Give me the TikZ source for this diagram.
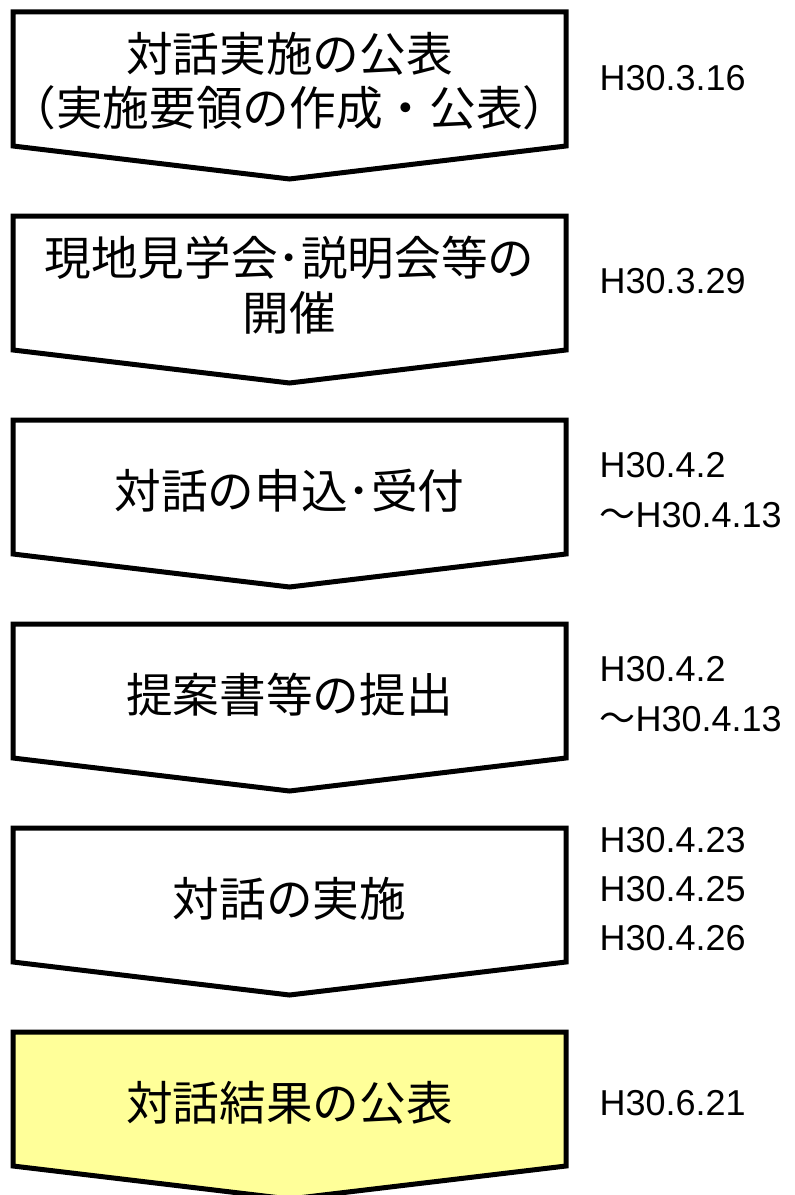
\documentclass[tikz,border=0pt]{standalone}
\usepackage{fontspec}
\newfontfamily\jpfont{Noto Sans CJK JP}
\newfontfamily\datefont{Liberation Sans}
\definecolor{paleyellow}{HTML}{FFFF99}
\begin{document}
\begin{tikzpicture}[x=0.75pt,y=-0.75pt,line width=3.75pt,line join=miter,lab/.style={font=\jpfont\fontsize{35pt}{41pt}\selectfont,align=center,inner sep=0pt},dat/.style={font=\datefont\fontsize{27pt}{37pt}\selectfont,align=left,anchor=west,inner sep=0pt}]
\useasboundingbox (0,0) rectangle (794,1195);
\foreach \i/\c in {0/white,1/white,2/white,3/white,4/white,5/paleyellow}{\draw[fill=\c] (13,{12+204*\i}) -- (566,{12+204*\i}) -- (566,{146+204*\i}) -- (289.5,{179+204*\i}) -- (13,{146+204*\i}) -- cycle;};
\node[lab] (s1) at (289.5,81) {対話実施の公表\\（実施要領の作成・公表）};
\node[lab] (s2) at (289.5,285) {現地見学会･説明会等の\\開催};
\node[lab] (s3) at (289.5,491) {対話の申込･受付};
\node[lab] (s4) at (289.5,695) {提案書等の提出};
\node[lab] (s5) at (289.5,899) {対話の実施};
\node[lab] (s6) at (289.5,1103) {対話結果の公表};
\node[dat] (d1) at (597,78) {H30.3.16};
\node[dat] (d2) at (597,281) {H30.3.29};
\node[dat] (d3) at (597,490) {H30.4.2\\{\jpfont ～}H30.4.13};
\node[dat] (d4) at (597,694) {H30.4.2\\{\jpfont ～}H30.4.13};
\node[dat] (d5) at (597,889) {H30.4.23\\H30.4.25\\H30.4.26};
\node[dat] (d6) at (597,1103) {H30.6.21};
\end{tikzpicture}
\end{document}
